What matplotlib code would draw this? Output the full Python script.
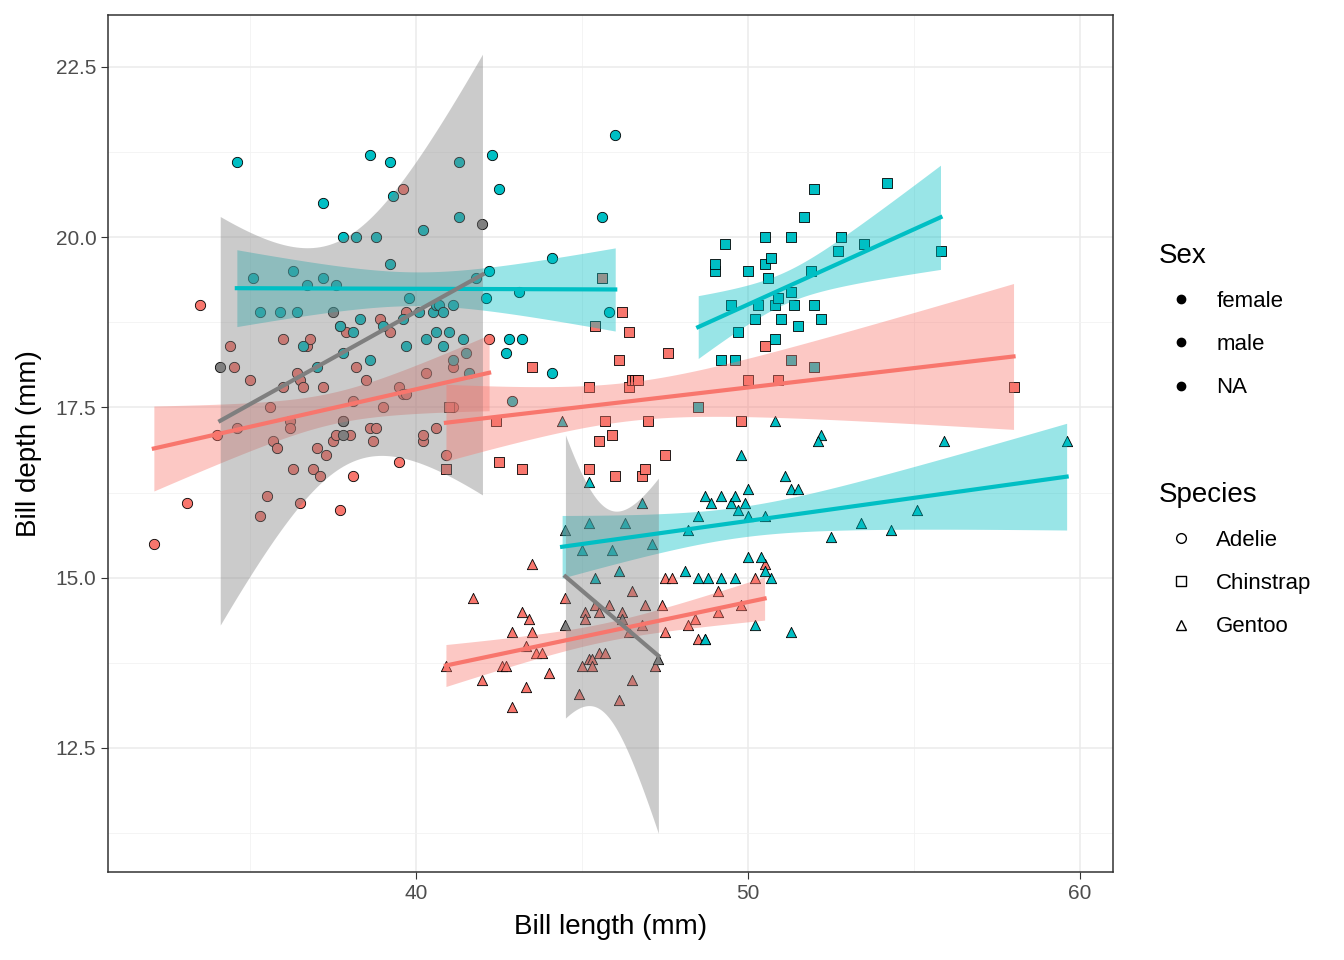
import numpy as np
import matplotlib
matplotlib.use("Agg")
import matplotlib.pyplot as plt
from matplotlib.lines import Line2D

plt.rcParams["font.family"] = ["Liberation Sans", "DejaVu Sans"]

# bill length / depth, per species and sex
adelie_f_x = [32.1, 33.1, 33.5, 34.0, 34.4, 34.5, 34.6, 35.0, 35.3, 35.5, 35.6, 35.7, 35.8, 36.0, 36.0,
              36.2, 36.2, 36.3, 36.4, 36.5, 36.5, 36.6, 36.7, 36.8, 36.9, 37.0, 37.1, 37.2, 37.3, 37.5,
              37.6, 37.7, 37.7, 37.8, 37.9, 38.0, 38.1, 38.1, 38.2, 38.5, 38.6, 38.7, 38.8, 38.9, 39.0,
              39.2, 39.5, 39.5, 39.6, 39.6, 39.7, 40.2, 40.3, 40.6, 40.9, 41.1, 41.1, 42.2, 39.7, 40.2]
adelie_f_y = [15.5, 16.1, 19.0, 17.1, 18.4, 18.1, 17.2, 17.9, 15.9, 16.2, 17.5, 17.0, 16.9, 18.5, 17.8,
              17.3, 17.2, 16.6, 18.0, 17.9, 16.1, 17.8, 18.4, 18.5, 16.6, 16.9, 16.5, 17.8, 16.8, 17.0,
              17.1, 16.0, 18.7, 17.3, 18.6, 17.1, 16.5, 17.6, 18.1, 17.9, 17.2, 17.0, 17.2, 18.8, 17.5,
              18.6, 16.7, 17.8, 17.7, 20.7, 17.7, 17.0, 18.0, 17.2, 16.8, 17.5, 18.1, 18.5, 18.9, 17.1]
adelie_m_x = [34.6, 35.1, 35.3, 35.9, 36.3, 36.4, 36.7, 37.2, 37.2, 37.6, 37.7, 37.8, 37.8, 38.1, 38.2,
              38.3, 38.6, 38.8, 39.0, 39.2, 39.2, 39.3, 39.6, 39.7, 39.8, 40.1, 40.2, 40.3, 40.5, 40.6,
              40.6, 40.7, 40.8, 40.8, 41.1, 41.1, 41.3, 41.3, 41.4, 41.5, 41.6, 41.8, 42.1, 42.2, 42.3,
              42.5, 42.7, 42.8, 42.9, 43.1, 43.2, 44.1, 44.1, 45.6, 45.8, 46.0, 41.0, 36.6, 37.0, 38.6]
adelie_m_y = [21.1, 19.4, 18.9, 18.9, 19.5, 18.9, 19.3, 20.5, 19.4, 19.3, 18.7, 20.0, 18.3, 18.6, 20.0,
              18.8, 21.2, 20.0, 18.7, 21.1, 19.6, 20.6, 18.8, 18.4, 19.1, 18.9, 20.1, 18.5, 18.9, 18.6,
              19.0, 19.0, 18.4, 18.9, 18.2, 19.0, 20.3, 21.1, 18.5, 18.3, 18.0, 19.4, 19.1, 19.5, 21.2,
              20.7, 18.3, 18.5, 17.6, 19.2, 18.5, 19.7, 18.0, 20.3, 18.9, 21.5, 18.6, 18.4, 18.1, 18.2]
adelie_na_x = [34.1, 42.0, 37.8, 37.8, 37.5]
adelie_na_y = [18.1, 20.2, 17.1, 17.3, 18.9]

chin_f_x = [40.9, 41.0, 42.4, 42.5, 43.2, 43.5, 45.2, 45.2, 45.4, 45.5, 45.6, 45.7, 45.9, 46.0, 46.1,
            46.2, 46.4, 46.4, 46.5, 46.6, 46.7, 46.8, 46.9, 47.0, 47.5, 47.6, 49.8, 50.0, 50.5,
            50.9, 58.0]
chin_f_y = [16.6, 17.5, 17.3, 16.7, 16.6, 18.1, 17.8, 16.6, 18.7, 17.0, 19.4, 17.3, 17.1, 16.5, 18.2,
            18.9, 18.6, 17.8, 17.9, 17.9, 17.9, 16.5, 16.6, 17.3, 16.8, 18.3, 17.3, 17.9, 18.4,
            17.9, 17.8]
chin_m_x = [48.5, 49.0, 49.0, 49.2, 49.3, 49.5, 49.6, 49.7, 50.0, 50.2, 50.3, 50.5, 50.5, 50.6, 50.7,
            50.8, 50.8, 50.9, 51.0, 51.3, 51.3, 51.4, 51.3, 51.5, 51.7, 51.9, 52.0, 52.0, 52.0, 52.2,
            52.7, 52.8, 53.5, 54.2, 55.8]
chin_m_y = [17.5, 19.5, 19.6, 18.2, 19.9, 19.0, 18.2, 18.6, 19.5, 18.8, 19.0, 20.0, 19.6, 19.4, 19.7,
            19.0, 18.5, 19.1, 18.8, 20.0, 19.2, 19.0, 18.2, 18.7, 20.3, 19.5, 20.7, 19.0, 18.1, 18.8,
            19.8, 20.0, 19.9, 20.8, 19.8]

gentoo_f_x = [40.9, 41.7, 42.0, 42.6, 42.7, 42.9, 42.9, 43.2, 43.3, 43.3, 43.4, 43.5, 43.5, 43.6, 43.8,
              44.0, 44.5, 44.9, 45.0, 45.1, 45.1, 45.2, 45.3, 45.3, 45.4, 45.5, 45.5, 45.7, 45.8, 46.1,
              46.2, 46.4, 46.5, 46.5, 46.8, 46.9, 47.2, 47.4, 47.5, 47.5, 47.7, 48.2, 48.4, 48.5, 48.7,
              49.1, 49.1, 49.8, 50.2, 50.5]
gentoo_f_y = [13.7, 14.7, 13.5, 13.7, 13.7, 14.2, 13.1, 14.5, 14.0, 13.4, 14.4, 15.2, 14.2, 13.9, 13.9,
              13.6, 14.7, 13.3, 13.7, 14.5, 14.4, 13.8, 13.8, 13.7, 14.6, 13.9, 14.5, 13.9, 14.6, 13.2,
              14.5, 14.2, 14.8, 13.5, 14.3, 14.6, 13.7, 14.6, 14.2, 15.0, 15.0, 14.3, 14.4, 14.1, 14.1,
              14.5, 14.8, 14.6, 15.0, 15.2]
gentoo_m_x = [44.4, 45.0, 45.2, 45.2, 45.4, 45.9, 46.1, 46.3, 46.8, 47.1, 48.1, 48.5, 48.8, 48.2, 48.5,
              48.7, 48.9, 49.2, 49.5, 49.6, 50.0, 49.9, 49.7, 50.0, 50.5, 49.8, 49.2, 49.6, 50.0, 50.4,
              50.7, 50.5, 50.2, 51.3, 48.7, 50.8, 51.1, 51.3, 51.5, 52.5, 52.2, 52.1, 53.4, 54.3, 55.1,
              55.9, 59.6]
gentoo_m_y = [17.3, 15.4, 16.4, 15.8, 15.0, 15.4, 15.1, 15.8, 16.1, 15.5, 15.1, 15.0, 15.0, 15.7, 15.9,
              16.2, 16.1, 16.2, 16.1, 16.2, 16.3, 16.1, 16.0, 15.9, 15.9, 16.8, 15.0, 15.0, 15.3, 15.3,
              15.0, 15.1, 14.3, 14.2, 14.1, 17.3, 16.5, 16.3, 16.3, 15.6, 17.1, 17.0, 15.8, 15.7, 16.0,
              17.0, 17.0]
gentoo_na_x = [44.5, 44.5, 46.2, 47.3]
gentoo_na_y = [15.7, 14.3, 14.4, 13.8]

RED, TEAL, GREY = "#F8766D", "#00BFC4", "#7F7F7F"

groups = [
    (adelie_f_x, adelie_f_y, RED, "o"), (adelie_m_x, adelie_m_y, TEAL, "o"), (adelie_na_x, adelie_na_y, GREY, "o"),
    (chin_f_x, chin_f_y, RED, "s"), (chin_m_x, chin_m_y, TEAL, "s"),
    (gentoo_f_x, gentoo_f_y, RED, "^"), (gentoo_m_x, gentoo_m_y, TEAL, "^"), (gentoo_na_x, gentoo_na_y, GREY, "^"),
]


def t_quantile(df, p=0.975):
    t = np.linspace(-60, 60, 200001)
    pdf = (1 + t ** 2 / df) ** (-(df + 1) / 2)
    cdf = np.cumsum(pdf)
    cdf /= cdf[-1]
    return t[np.searchsorted(cdf, p)]


def fit_band(x, y):
    x = np.asarray(x); y = np.asarray(y)
    n = len(x)
    b, a = np.polyfit(x, y, 1)
    xs = np.linspace(x.min(), x.max(), 80)
    res = y - (a + b * x)
    s = np.sqrt(np.sum(res ** 2) / (n - 2))
    se = s * np.sqrt(1 / n + (xs - x.mean()) ** 2 / np.sum((x - x.mean()) ** 2))
    fit = a + b * xs
    tq = t_quantile(n - 2)
    return xs, fit, fit - tq * se, fit + tq * se


fig = plt.figure(figsize=(13.44, 9.6), dpi=100)
ax = fig.add_axes([0.0804, 0.0917, 0.7478, 0.8926])

for x, y, c, m in groups:
    ax.scatter(x, y, s=55, c=c, marker=m, edgecolors="black", linewidths=0.6, zorder=2)
for x, y, c, m in groups:
    xs, fit, lo, hi = fit_band(x, y)
    ax.fill_between(xs, lo, hi, color=c, alpha=0.4, linewidth=0, zorder=3)
    ax.plot(xs, fit, color=c, lw=3, zorder=4)

ax.set_xlim(30.72, 61.0)
ax.set_ylim(10.68, 23.26)
ax.set_xticks([40, 50, 60])
ax.set_yticks([12.5, 15.0, 17.5, 20.0, 22.5])
ax.set_yticklabels(["12.5", "15.0", "17.5", "20.0", "22.5"])
ax.set_xticks([35, 45, 55], minor=True)
ax.set_yticks([11.25, 13.75, 16.25, 18.75, 21.25], minor=True)
ax.grid(True, which="major", color="#EBEBEB", lw=1.1, zorder=0)
ax.grid(True, which="minor", color="#F2F2F2", lw=0.6, zorder=0)
ax.set_axisbelow(True)
ax.tick_params(which="major", labelsize=15, colors="#333333", length=5, labelcolor="#4D4D4D")
ax.tick_params(which="minor", length=0)
for sp in ax.spines.values():
    sp.set_color("#333333")
    sp.set_linewidth(1.1)
ax.set_xlabel("Bill length (mm)", fontsize=20, labelpad=8)
ax.set_ylabel("Bill depth (mm)", fontsize=20, labelpad=10)

sex_handles = [Line2D([], [], ls="", marker="o", color="black", markersize=6) for _ in range(3)]
fig.legend(sex_handles, ["female", "male", "NA"], title="Sex", loc="upper left",
           bbox_to_anchor=(0.847, 0.768), frameon=False, fontsize=16, title_fontsize=20,
           labelspacing=1.0, handletextpad=0.6, alignment="left")
sp_handles = [Line2D([], [], ls="", marker=m, markerfacecolor="white", markeredgecolor="black",
                     markersize=7) for m in ["o", "s", "^"]]
fig.legend(sp_handles, ["Adelie", "Chinstrap", "Gentoo"], title="Species", loc="upper left",
           bbox_to_anchor=(0.847, 0.519), frameon=False, fontsize=16, title_fontsize=20,
           labelspacing=1.0, handletextpad=0.6, alignment="left")

fig.savefig("out.png", dpi=100)
